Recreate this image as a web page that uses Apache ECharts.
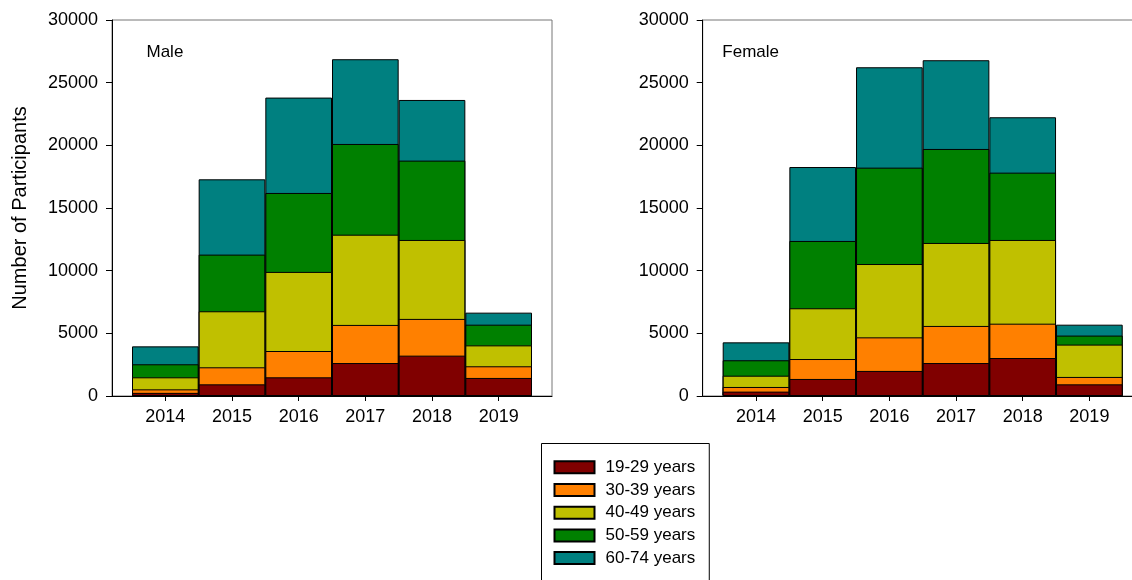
<!DOCTYPE html>
<html>
<head>
<meta charset="utf-8">
<script src="https://cdn.jsdelivr.net/npm/echarts@6/dist/echarts.min.js"></script>
<style>
html,body{margin:0;padding:0;background:#fff;}
#c{width:1132px;height:580px;}
</style>
</head>
<body>
<div id="c"></div>
<script>
const years = [2014, 2015, 2016, 2017, 2018, 2019];
const ageGroups = ['19-29 years', '30-39 years', '40-49 years', '50-59 years', '60-74 years'];
const colors = ['#800000', '#ff8000', '#c0c000', '#008000', '#008080'];
const yTicks = [0, 5000, 10000, 15000, 20000, 25000, 30000];

// Male participants by age group (per year)
const male_19_29 = [250, 930, 1490, 2630, 3220, 1440];
const male_30_39 = [280, 1360, 2100, 3040, 2930, 930];
const male_40_49 = [960, 4470, 6310, 7200, 6300, 1670];
const male_50_59 = [1040, 4520, 6300, 7240, 6330, 1650];
const male_60_74 = [1430, 6010, 7610, 6760, 4840, 960];

// Female participants by age group (per year)
const female_19_29 = [350, 1360, 2000, 2630, 3030, 930];
const female_30_39 = [370, 1590, 2680, 2960, 2740, 590];
const female_40_49 = [900, 4050, 5850, 6620, 6680, 2580];
const female_50_59 = [1230, 5370, 7690, 7500, 5370, 720];
const female_60_74 = [1430, 5900, 8010, 7080, 4420, 870];

const maleGroups = [male_19_29, male_30_39, male_40_49, male_50_59, male_60_74];
const femaleGroups = [female_19_29, female_30_39, female_40_49, female_50_59, female_60_74];

const FONT = "'Liberation Sans', Arial, sans-serif";
const PLOT_W = 440;
const X_MIN = 2013.2, X_MAX = 2019.8;
const BAR_W = PLOT_W / (X_MAX - X_MIN);

function cumulative(groups) {
  const out = [];
  let run = years.map(() => 0);
  groups.forEach(g => {
    run = run.map((v, i) => v + g[i]);
    out.push(run.slice());
  });
  return out;
}

function xAxisFor(gi) {
  return {
    type: 'value', gridIndex: gi, min: X_MIN, max: X_MAX,
    axisLine: {show: true, onZero: false, lineStyle: {color: '#000', width: 1}},
    axisTick: {show: true, inside: false, length: 5, customValues: years, lineStyle: {color: '#000'}},
    axisLabel: {show: true, customValues: years, margin: 12, color: '#000', fontSize: 18, fontFamily: FONT,
      formatter: v => String(v)},
    splitLine: {show: false}
  };
}
function yAxisFor(gi, withName) {
  const ax = {
    type: 'value', gridIndex: gi, min: yTicks[0], max: yTicks[yTicks.length - 1], interval: yTicks[1] - yTicks[0],
    axisLine: {show: true, lineStyle: {color: '#000', width: 1}},
    axisTick: {show: true, inside: false, length: 6, lineStyle: {color: '#000'}},
    axisLabel: {margin: 14, color: '#000', fontSize: 18, fontFamily: FONT, formatter: v => String(v)},
    splitLine: {show: false}
  };
  if (withName) {
    ax.name = 'Number of Participants';
    ax.nameLocation = 'middle';
    ax.nameGap = 82;
    ax.nameTextStyle = {fontSize: 20, color: '#000', fontFamily: FONT};
  }
  return ax;
}

function seriesFor(groups, gi) {
  const cum = cumulative(groups);
  const list = [];
  for (let k = groups.length - 1; k >= 0; k--) {
    list.push({
      name: ageGroups[k], type: 'bar', xAxisIndex: gi, yAxisIndex: gi,
      barWidth: BAR_W, barGap: '-100%',
      itemStyle: {color: colors[k], borderColor: '#000', borderWidth: 1},
      data: years.map((y, i) => [y, cum[k][i]]),
      emphasis: {disabled: true}
    });
  }
  return list;
}

const chart = echarts.init(document.getElementById('c'), null, {renderer: 'canvas'});
chart.setOption({
  animation: false,
  backgroundColor: '#fff',
  textStyle: {fontFamily: FONT},
  title: [
    {text: 'Male', left: 146.5, top: 43.5, padding: 0, textStyle: {fontSize: 17, fontWeight: 'normal', color: '#000', fontFamily: FONT}},
    {text: 'Female', left: 722.3, top: 43.5, padding: 0, textStyle: {fontSize: 17, fontWeight: 'normal', color: '#000', fontFamily: FONT}}
  ],
  grid: [
    {left: 112, top: 20, width: PLOT_W, height: 376, outerBoundsMode: 'none', containLabel: false, show: true, borderColor: '#777', borderWidth: 1, backgroundColor: 'transparent'},
    {left: 702.7, top: 20, width: PLOT_W, height: 376, outerBoundsMode: 'none', containLabel: false, show: true, borderColor: '#777', borderWidth: 1, backgroundColor: 'transparent'}
  ],
  xAxis: [xAxisFor(0), xAxisFor(1)],
  yAxis: [yAxisFor(0, true), yAxisFor(1, false)],
  legend: {
    data: ageGroups,
    orient: 'vertical',
    left: 541.5, top: 443.5, height: 400,
    padding: [15.3, 14, 20, 12],
    borderColor: '#000', borderWidth: 1,
    itemWidth: 40, itemHeight: 12, itemGap: 5.7,
    icon: 'rect',
    selectedMode: false,
    textStyle: {fontSize: 17, color: '#000', fontFamily: FONT, padding: [0, 0, 0, 6]}
  },
  series: seriesFor(maleGroups, 0).concat(seriesFor(femaleGroups, 1))
});
</script>
</body>
</html>
